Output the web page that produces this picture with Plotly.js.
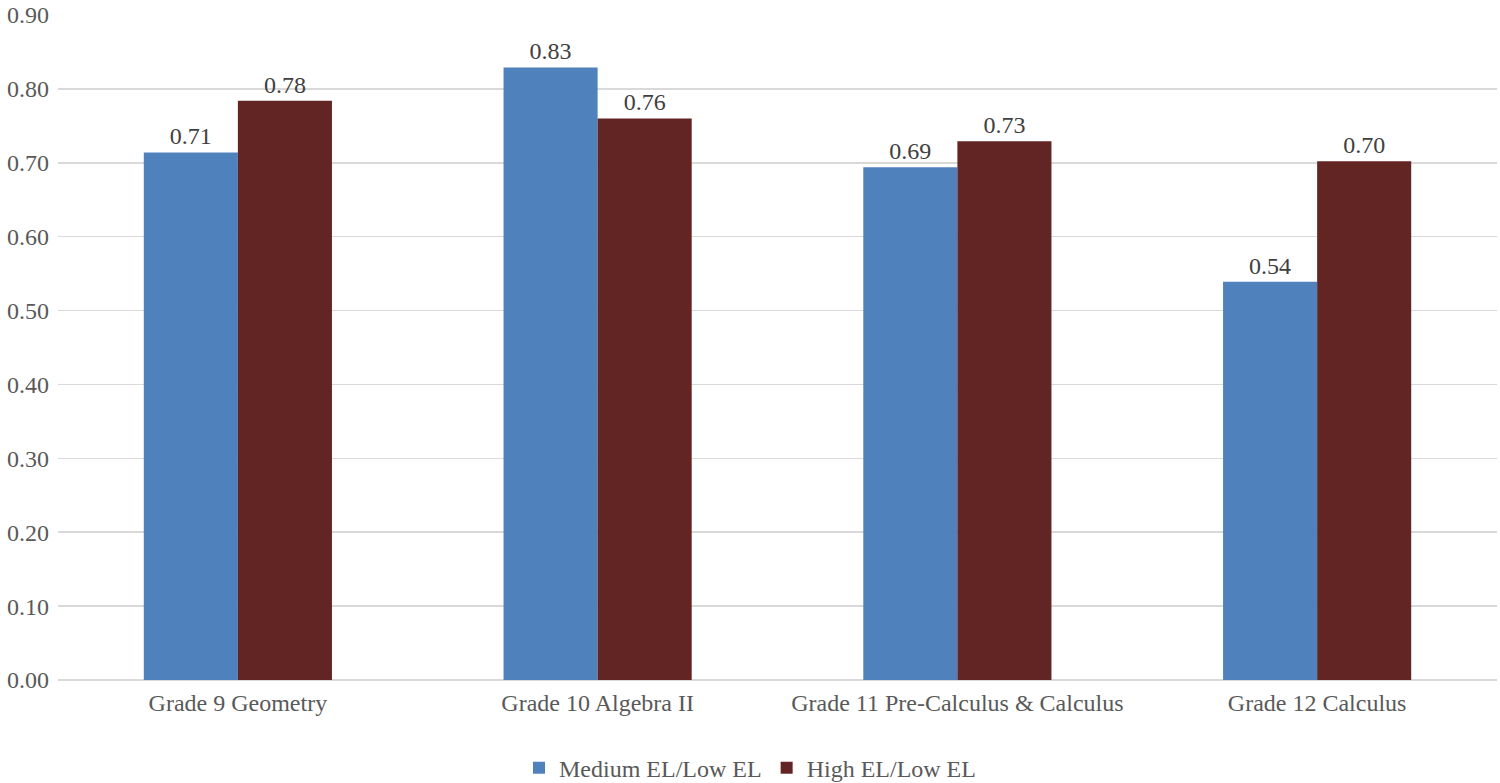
<!DOCTYPE html>
<html>
<head>
<meta charset="utf-8">
<script src="https://cdn.plot.ly/plotly-3.0.1.min.js"></script>
<style>html,body{margin:0;padding:0;background:#fff;}#chart{width:1500px;height:783px;}</style>
</head>
<body>
<div id="chart"></div>
<script>
const categories = ["Grade 9 Geometry", "Grade 10 Algebra II", "Grade 11 Pre-Calculus & Calculus", "Grade 12 Calculus"];
const mediumLow = [0.714, 0.829, 0.694, 0.539];
const highLow = [0.784, 0.760, 0.729, 0.702];
const seriesNames = ["Medium EL/Low EL", "High EL/Low EL"];

const font = "Liberation Serif";
const fs = 24;
const traces = [
  {type: "bar", name: seriesNames[0], x: categories, y: mediumLow,
   marker: {color: "#4f81bd"}, text: mediumLow, texttemplate: "%{y:.2f}",
   textposition: "outside", cliponaxis: false,
   textfont: {family: font, size: fs, color: "#404040"}, hoverinfo: "skip"},
  {type: "bar", name: seriesNames[1], x: categories, y: highLow,
   marker: {color: "#632523"}, text: highLow, texttemplate: "%{y:.2f}",
   textposition: "outside", cliponaxis: false,
   textfont: {family: font, size: fs, color: "#404040"}, hoverinfo: "skip"}
];
const layout = {
  width: 1500, height: 783,
  margin: {l: 58, r: 3, t: 15, b: 103},
  paper_bgcolor: "#fff", plot_bgcolor: "#fff",
  barmode: "group", bargap: 0.477, bargroupgap: 0,
  font: {family: font, size: fs, color: "#595959"},
  xaxis: {type: "category", showgrid: false, showline: false, zeroline: false,
          ticks: "", automargin: false, ticklabelstandoff: 6,
          tickfont: {family: font, size: fs, color: "#595959"}},
  yaxis: {range: [0, 0.9], dtick: 0.1, tickformat: ".2f", showgrid: true, automargin: false,
          gridcolor: "#d9d9d9", gridwidth: 1.5, zeroline: true, zerolinecolor: "#d9d9d9",
          zerolinewidth: 1.5, showline: false, ticks: "", ticklen: 0, ticklabelstandoff: 8,
          tickfont: {family: font, size: fs, color: "#595959"}},
  showlegend: true,
  legend: {orientation: "h", xref: "container", x: 0.5, xanchor: "center",
           yref: "container", y: 0.019, yanchor: "middle",
           font: {family: font, size: fs, color: "#595959"}, itemsizing: "constant"}
};
Plotly.newPlot("chart", traces, layout, {staticPlot: true});
</script>
</body>
</html>
